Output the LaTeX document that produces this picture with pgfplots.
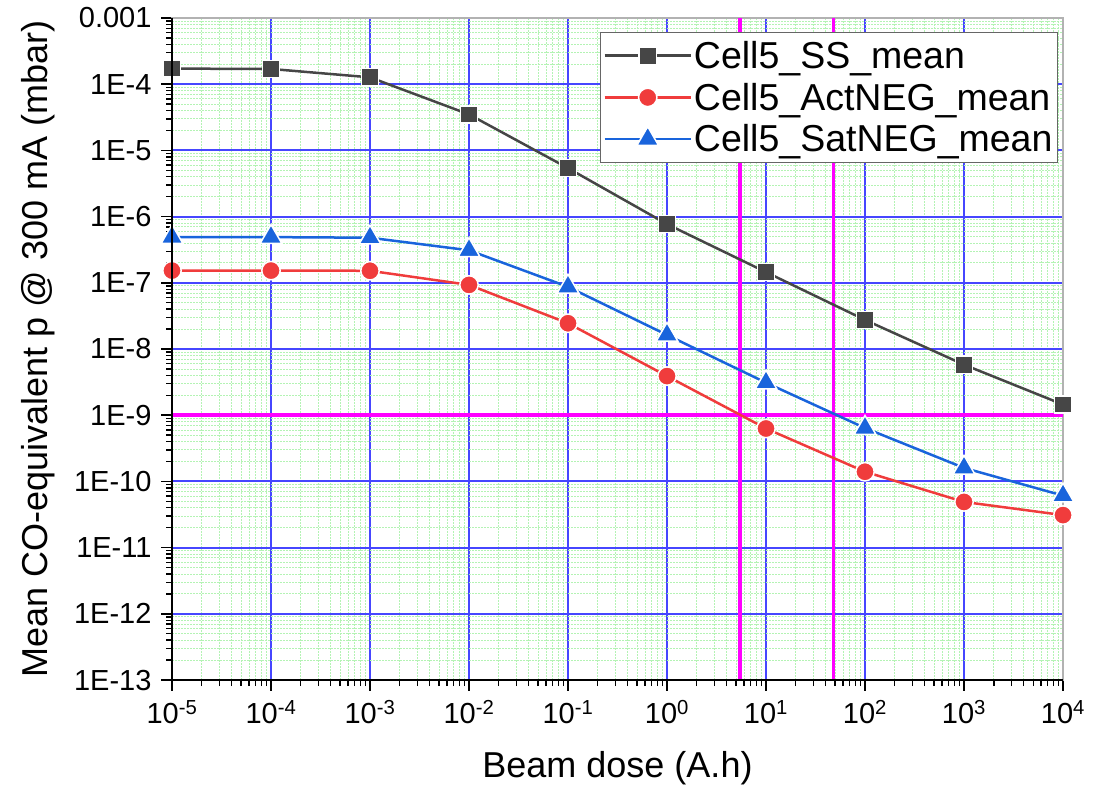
\documentclass[border=0pt]{standalone}
\usepackage{pgfplots}
\pgfplotsset{compat=1.18}
\usepackage{fontspec}
\setmainfont{Liberation Sans}
\definecolor{ssgray}{RGB}{70,70,70}
\definecolor{actred}{RGB}{240,60,60}
\definecolor{satblue}{RGB}{25,100,220}
\definecolor{majgrid}{RGB}{70,70,255}
\definecolor{mingrid}{RGB}{180,243,180}
\definecolor{mag}{RGB}{255,0,255}
\def\myminorY{1e-13}
\foreach \e in {-13,...,-4}{\foreach \m in {2,...,9}{\xdef\myminorY{\myminorY,\m e\e}}}
\def\myminorX{1e-5}
\foreach \e in {-5,...,3}{\foreach \m in {2,...,9}{\xdef\myminorX{\myminorX,\m e\e}}}
\begin{document}
\begin{tikzpicture}
\begin{axis}[
  scale only axis, width=891pt, height=662pt,
  xmode=log, ymode=log,
  xmin=1e-5, xmax=1e4, ymin=1e-13, ymax=1e-3,
  xtick={1e-5,1e-4,1e-3,1e-2,1e-1,1,10,100,1000,10000},
  xticklabels={10\textsuperscript{-5},10\textsuperscript{-4},10\textsuperscript{-3},10\textsuperscript{-2},10\textsuperscript{-1},10\textsuperscript{0},10\textsuperscript{1},10\textsuperscript{2},10\textsuperscript{3},10\textsuperscript{4}},
  ytick={1e-13,1e-12,1e-11,1e-10,1e-9,1e-8,1e-7,1e-6,1e-5,1e-4,1e-3},
  yticklabels={1E-13,1E-12,1E-11,1E-10,1E-9,1E-8,1E-7,1E-6,1E-5,1E-4,0.001},
  minor xtick/.expanded={\myminorX},
  minor ytick/.expanded={\myminorY},
  grid=both,
  major grid style={majgrid, line width=2pt},
  minor grid style={mingrid, dash pattern=on 1.6pt off 1.4pt, line width=0.8pt},
  tick pos=left, tick align=outside,
  major tick length=11pt, minor tick length=6pt,
  major tick style={black, line width=1.6pt},
  minor tick style={black, line width=1.4pt},
  axis line style={gray!60, line width=1.5pt},
  tick label style={font=\fontsize{29}{34}\selectfont},
  xticklabel style={yshift=-6pt},
  yticklabel style={xshift=-6pt},
  label style={font=\fontsize{36}{42}\selectfont},
  xlabel={Beam dose (A.h)},
  ylabel={Mean CO-equivalent p @ 300 mA (mbar)},
  xlabel style={at={(rel axis cs:0.5,-0.133)}, anchor=center},
  ylabel style={at={(rel axis cs:-0.1504,0.5)}, anchor=center},
  clip mode=individual,
  legend style={at={(rel axis cs:0.9944,0.979)}, anchor=north east,
    draw=gray!80!black, line width=1pt, fill=white,
    font=\fontsize{37.5}{44}\selectfont, cells={anchor=west},
    row sep=9pt, inner xsep=3pt, inner ysep=7pt},
  legend image code/.code={\draw[mark repeat=2,mark phase=2] plot coordinates {(0pt,0pt) (43pt,0pt) (86pt,0pt)};},
]
\addplot[mag, line width=3.5pt, forget plot] coordinates {(1e-5,1e-9) (1e4,1e-9)};
\addplot[mag, line width=3.5pt, forget plot] coordinates {(5.45,1e-13) (5.45,1e-3)};
\addplot[mag, line width=3.5pt, forget plot] coordinates {(48,1e-13) (48,1e-3)};

\addplot[ssgray, line width=2.5pt, mark=square*, mark size=8.6pt, mark options={solid, draw=white, line width=1.5pt, fill=ssgray}] coordinates {
(1e-5,1.72e-4) (1e-4,1.70e-4) (1e-3,1.27e-4) (1e-2,3.5e-5) (1e-1,5.4e-6) (1,7.7e-7) (10,1.45e-7) (100,2.75e-8) (1000,5.8e-9) (1e4,1.45e-9)};
\addlegendentry{Cell5\_SS\_mean}
\addplot[actred, line width=2.5pt, mark=*, mark size=9.2pt, mark options={solid, draw=white, line width=1.5pt, fill=actred}] coordinates {
(1e-5,1.53e-7) (1e-4,1.53e-7) (1e-3,1.52e-7) (1e-2,9.3e-8) (1e-1,2.45e-8) (1,3.9e-9) (10,6.3e-10) (100,1.4e-10) (1000,4.9e-11) (1e4,3.1e-11)};
\addlegendentry{Cell5\_ActNEG\_mean}
\addplot[satblue, line width=2.5pt, mark=triangle*, mark size=12.5pt, mark options={solid, draw=white, line width=1.5pt, fill=satblue}] coordinates {
(1e-5,4.9e-7) (1e-4,4.9e-7) (1e-3,4.8e-7) (1e-2,3.1e-7) (1e-1,8.7e-8) (1,1.63e-8) (10,3.1e-9) (100,6.4e-10) (1000,1.6e-10) (1e4,6.1e-11)};
\addlegendentry{Cell5\_SatNEG\_mean}

\draw[black, line width=2.6pt] (rel axis cs:0,1) -- (rel axis cs:0,0) -- (rel axis cs:1,0);
\end{axis}
\pgfresetboundingbox
\path (-172pt,-108pt) rectangle (922pt,680pt);
\end{tikzpicture}
\end{document}
